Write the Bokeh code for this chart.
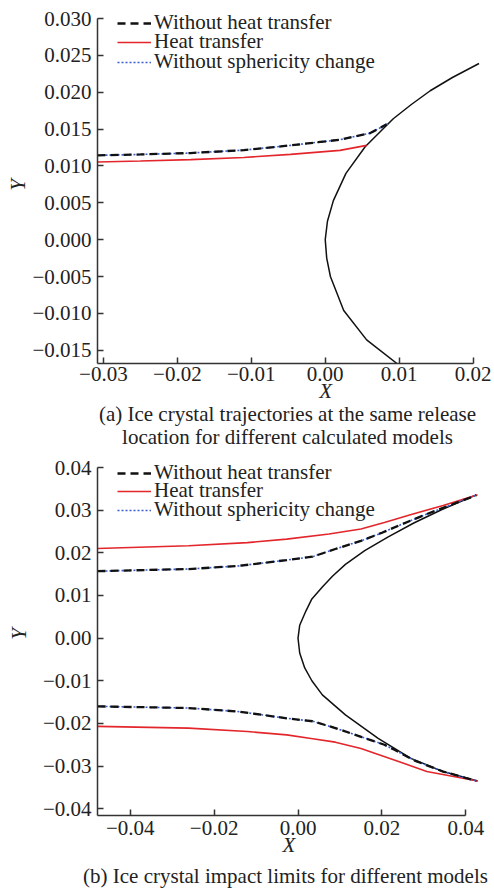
from bokeh.plotting import figure
from bokeh.models import Legend, LegendItem, FixedTicker, Range1d, Label
from bokeh.layouts import column, row
from bokeh.embed import file_html
from bokeh.resources import INLINE

FONT = "Liberation Serif"
FS = "21px"

# ---------------- Panel (a) data ----------------
a_xticks = [-0.03, -0.02, -0.01, 0.0, 0.01, 0.02]
a_xlabels = ["\u22120.03", "\u22120.02", "\u22120.01", "0.00", "0.01", "0.02"]
a_yticks = [-0.015, -0.01, -0.005, 0.0, 0.005, 0.01, 0.015, 0.02, 0.025, 0.03]
a_ylabels = ["\u22120.015", "\u22120.010", "\u22120.005", "0.000", "0.005",
             "0.010", "0.015", "0.020", "0.025", "0.030"]

a_wall_x = [0.0097, 0.0056, 0.0025, 0.0007, 0.0002, 0.0, 0.0003, 0.0011, 0.0028,
            0.0054, 0.0092, 0.0116, 0.0142, 0.0172, 0.0208]
a_wall_y = [-0.0168, -0.0136, -0.0096, -0.0050, -0.0025, 0.0, 0.0025, 0.0053, 0.0090,
            0.0126, 0.0164, 0.0183, 0.0202, 0.0220, 0.0239]

a_heat_x = [-0.0308, -0.0250, -0.0182, -0.0110, -0.0047, 0.0020, 0.0056]
a_heat_y = [0.01053, 0.01068, 0.01086, 0.01115, 0.01157, 0.01211, 0.01279]

a_noheat_x = [-0.0308, -0.0250, -0.0182, -0.0110, -0.0047, 0.0020, 0.0061, 0.0083]
a_noheat_y = [0.01144, 0.01156, 0.01175, 0.01215, 0.01279, 0.01356, 0.01446, 0.01564]

a_nosph_x = [-0.0308, -0.0250, -0.0182, -0.0110, -0.0047, 0.0020, 0.0061, 0.0086]
a_nosph_y = [0.01144, 0.01156, 0.01175, 0.01215, 0.01279, 0.01356, 0.01446, 0.01580]

# ---------------- Panel (b) data ----------------
b_xticks = [-0.04, -0.02, 0.0, 0.02, 0.04]
b_xlabels = ["\u22120.04", "\u22120.02", "0.00", "0.02", "0.04"]
b_yticks = [-0.04, -0.03, -0.02, -0.01, 0.0, 0.01, 0.02, 0.03, 0.04]
b_ylabels = ["\u22120.04", "\u22120.03", "\u22120.02", "\u22120.01", "0.00",
             "0.01", "0.02", "0.03", "0.04"]

b_wall_x = [0.0428, 0.0346, 0.0269, 0.0191, 0.0113, 0.0058, 0.0033, 0.0016, 0.0004, 0.0,
            0.0004, 0.0019, 0.0033, 0.0058, 0.0082, 0.0113, 0.0159, 0.0214, 0.0276, 0.0342, 0.0425]
b_wall_y = [-0.0335, -0.0313, -0.0282, -0.0235, -0.0180, -0.0133, -0.0100, -0.0070, -0.0035, 0.0,
            0.0030, 0.0064, 0.0092, 0.0120, 0.0145, 0.0173, 0.0205, 0.0237, 0.0270, 0.0301, 0.0336]

b_heat_up_x = [-0.0478, -0.0261, -0.0121, -0.0027, 0.0074, 0.0150, 0.0206, 0.0270, 0.0346, 0.0428]
b_heat_up_y = [0.0210, 0.02165, 0.0224, 0.02322, 0.0244, 0.0256, 0.0271, 0.0290, 0.0311, 0.0336]
b_heat_lo_x = [-0.0478, -0.0261, -0.0121, -0.0027, 0.0035, 0.0089, 0.0150, 0.0200, 0.0250, 0.0307, 0.0428]
b_heat_lo_y = [-0.0207, -0.0211, -0.0219, -0.0227, -0.0236, -0.0244, -0.0259, -0.0276, -0.0293, -0.0313, -0.0335]

b_noheat_up_x = [-0.0478, -0.0261, -0.0144, -0.0027, 0.0035, 0.0089, 0.0150, 0.0200, 0.0250, 0.0307, 0.0425]
b_noheat_up_y = [0.0157, 0.0162, 0.0169, 0.0183, 0.0191, 0.0209, 0.0228, 0.0247, 0.0268, 0.0291, 0.0335]
b_noheat_lo_x = [-0.0478, -0.0261, -0.0144, -0.0027, 0.0035, 0.0089, 0.0152, 0.0206, 0.0230, 0.0280, 0.0346, 0.0425]
b_noheat_lo_y = [-0.0160, -0.0164, -0.0172, -0.0188, -0.0195, -0.0211, -0.0232, -0.0250, -0.0262, -0.0288, -0.0313, -0.0335]

b_nosph_up_x, b_nosph_up_y = list(b_noheat_up_x), list(b_noheat_up_y)
b_nosph_lo_x, b_nosph_lo_y = list(b_noheat_lo_x), list(b_noheat_lo_y)

legend_labels = ["Without heat transfer", "Heat transfer", "Without sphericity change"]
caption_a = ["(a) Ice crystal trajectories at the same release",
             "location for different calculated models"]
caption_b = ["(b) Ice crystal impact limits for different models"]
# em/en spaces push the centred "X" of panel (a) under x = 0, as in the original
xlabel_a = "\u2003\u2003\u2003\u2002X"
xlabel_b = "X"

RED = "#e3262b"
BLUE = "#3a5fcd"
BLACK = "#111111"
AX = "#333333"
TXT = "#222222"


def style(p, xticks, xlabels, yticks, ylabels, xbounds, ybounds,
          xstand, xlab_stand, ylab_stand, xlabel):
    p.grid.visible = False
    p.outline_line_color = None
    p.xaxis.ticker = FixedTicker(ticks=xticks)
    p.yaxis.ticker = FixedTicker(ticks=yticks)
    p.xaxis.major_label_overrides = dict(zip(xticks, xlabels))
    p.yaxis.major_label_overrides = dict(zip(yticks, ylabels))
    p.xaxis.bounds = xbounds
    p.yaxis.bounds = ybounds
    for ax in (p.xaxis[0], p.yaxis[0]):
        ax.axis_line_color = AX
        ax.axis_line_width = 1.5
        ax.major_tick_line_color = AX
        ax.major_tick_line_width = 1.5
        ax.major_tick_in = 6
        ax.major_tick_out = 0
        ax.minor_tick_in = 0
        ax.minor_tick_out = 0
        ax.major_label_text_font = FONT
        ax.major_label_text_font_size = FS
        ax.major_label_text_color = TXT
        ax.axis_label_text_font = FONT
        ax.axis_label_text_font_size = FS
        ax.axis_label_text_font_style = "italic"
        ax.axis_label_text_color = TXT
    p.xaxis.axis_label = xlabel
    p.yaxis.axis_label = "Y"
    p.xaxis.major_label_standoff = xstand
    p.xaxis.axis_label_standoff = xlab_stand
    p.yaxis.major_label_standoff = 6
    p.yaxis.axis_label_standoff = ylab_stand


def add_legend(p, renderers, ys):
    for r, lab, y in zip(renderers, legend_labels, ys):
        leg = Legend(items=[LegendItem(label=lab, renderers=[r])],
                     location=(20, y), background_fill_alpha=0, border_line_color=None,
                     label_text_font=FONT, label_text_font_size=FS, label_text_color=TXT,
                     glyph_width=34, glyph_height=20, label_height=20, label_standoff=3,
                     spacing=0, padding=0, margin=0)
        p.add_layout(leg, "center")


def traj(p, xs, ys, kind):
    if kind == "heat":
        return p.line(xs, ys, line_color=RED, line_width=1.6)
    elif kind == "noheat":
        return p.line(xs, ys, line_color=BLACK, line_width=2.3, line_dash="8 5")
    return p.line(xs, ys, line_color=BLUE, line_width=1.6, line_dash="2 2")


def caption_fig(lines, x, ys, h):
    c = figure(width=494, height=h, x_range=Range1d(0, 1), y_range=Range1d(0, 1),
               x_axis_type=None, y_axis_type=None, output_backend="svg",
               toolbar_location=None, min_border=0)
    c.grid.visible = False
    c.outline_line_color = None
    for t, y in zip(lines, ys):
        c.add_layout(Label(x=x, y=y, x_units="screen", y_units="screen", text=t,
                           text_align="center", text_baseline="middle",
                           text_font=FONT, text_font_size=FS, text_color=TXT))
    return c


# ---------------- Figure (a) ----------------
pa = figure(width=494, height=405, x_range=Range1d(-0.0308, 0.021), y_range=Range1d(-0.0168, 0.03163),
            output_backend="svg", toolbar_location=None,
            min_border_left=97, min_border_right=14, min_border_top=6, min_border_bottom=42)
style(pa, a_xticks, a_xlabels, a_yticks, a_ylabels, (-0.0308, 0.02), (-0.0168, 0.030), 3, -5, -1,
      xlabel_a)
pa.line(a_wall_x, a_wall_y, line_color=BLACK, line_width=1.5)
ra2 = traj(pa, a_heat_x, a_heat_y, "heat")
ra3 = traj(pa, a_nosph_x, a_nosph_y, "nosph")
ra1 = traj(pa, a_noheat_x, a_noheat_y, "noheat")
add_legend(pa, [ra1, ra2, ra3], [328, 309, 289])
ca = caption_fig(caption_a, 287, [31, 8], 39)

# ---------------- Figure (b) ----------------
pb = figure(width=494, height=417, x_range=Range1d(-0.0478, 0.0435), y_range=Range1d(-0.0416, 0.04353),
            output_backend="svg", toolbar_location=None,
            min_border_left=97, min_border_right=6, min_border_top=8, min_border_bottom=46)
style(pb, b_xticks, b_xlabels, b_yticks, b_ylabels, (-0.0478, 0.04), (-0.0416, 0.040), 5, -5, 9,
      xlabel_b)
pb.line(b_wall_x, b_wall_y, line_color=BLACK, line_width=1.5)
rb2 = traj(pb, b_heat_up_x, b_heat_up_y, "heat")
traj(pb, b_heat_lo_x, b_heat_lo_y, "heat")
rb3 = traj(pb, b_nosph_up_x, b_nosph_up_y, "nosph")
traj(pb, b_nosph_lo_x, b_nosph_lo_y, "nosph")
rb1 = traj(pb, b_noheat_up_x, b_noheat_up_y, "noheat")
traj(pb, b_noheat_lo_x, b_noheat_lo_y, "noheat")
add_legend(pb, [rb1, rb2, rb3], [330, 312, 293])
cb = caption_fig(caption_b, 285, [13], 27)

layout = column(pa, row(ca), pb, row(cb), spacing=0)
open("out.html", "w").write(file_html(layout, INLINE))
